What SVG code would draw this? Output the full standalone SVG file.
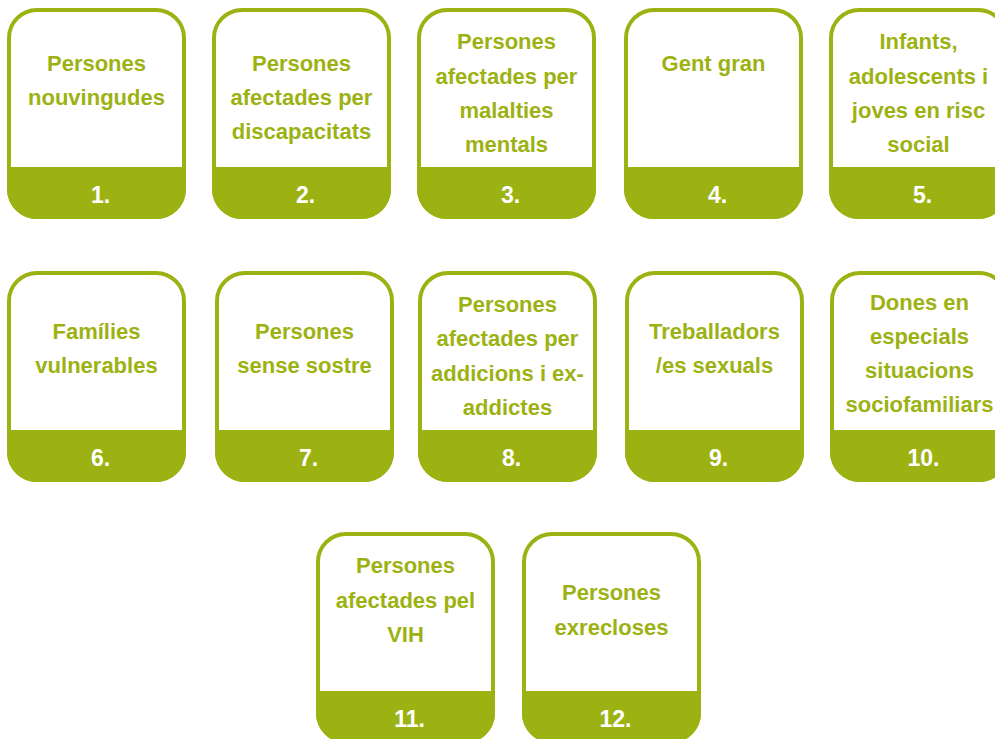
<svg xmlns="http://www.w3.org/2000/svg" xmlns:xlink="http://www.w3.org/1999/xlink" width="995" height="739" viewBox="0 0 995 739">
<style>
.t{font-family:"Liberation Sans",Arial,Helvetica,sans-serif;font-weight:bold;font-size:22px;fill:#9CB213;text-anchor:middle}
.n{font-family:"Liberation Sans",Arial,Helvetica,sans-serif;font-weight:bold;font-size:23px;fill:#ffffff;text-anchor:middle}
</style>
<defs>
<g id="card">
<rect x="2" y="2" width="175" height="207" rx="28" ry="28" fill="#ffffff" stroke="#9CB213" stroke-width="4"/>
<path d="M0,159 H179 V181 A30,30 0 0 1 149,211 H30 A30,30 0 0 1 0,181 Z" fill="#9CB213"/>
</g>
</defs>
<rect width="995" height="739" fill="#ffffff"/>
<g id="node1">
<use xlink:href="#card" x="7" y="8"/>
<text class="t" x="96.5" y="71">Persones</text>
<text class="t" x="96.5" y="105">nouvingudes</text>
<text class="n" x="100.5" y="203">1.</text>
</g>
<g id="node2">
<use xlink:href="#card" x="212" y="8"/>
<text class="t" x="301.5" y="71">Persones</text>
<text class="t" x="301.5" y="105">afectades per</text>
<text class="t" x="301.5" y="139">discapacitats</text>
<text class="n" x="305.5" y="203">2.</text>
</g>
<g id="node3">
<use xlink:href="#card" x="417" y="8"/>
<text class="t" x="506.5" y="49">Persones</text>
<text class="t" x="506.5" y="84">afectades per</text>
<text class="t" x="506.5" y="118">malalties</text>
<text class="t" x="506.5" y="152">mentals</text>
<text class="n" x="510.5" y="203">3.</text>
</g>
<g id="node4">
<use xlink:href="#card" x="624" y="8"/>
<text class="t" x="713.5" y="71">Gent gran</text>
<text class="n" x="717.5" y="203">4.</text>
</g>
<g id="node5">
<use xlink:href="#card" x="829" y="8"/>
<text class="t" x="918.5" y="49">Infants,</text>
<text class="t" x="918.5" y="84">adolescents i</text>
<text class="t" x="918.5" y="118">joves en risc</text>
<text class="t" x="918.5" y="152">social</text>
<text class="n" x="922.5" y="203">5.</text>
</g>
<g id="node6">
<use xlink:href="#card" x="7" y="271"/>
<text class="t" x="96.5" y="339">Famílies</text>
<text class="t" x="96.5" y="373">vulnerables</text>
<text class="n" x="100.5" y="466">6.</text>
</g>
<g id="node7">
<use xlink:href="#card" x="215" y="271"/>
<text class="t" x="304.5" y="339">Persones</text>
<text class="t" x="304.5" y="373">sense sostre</text>
<text class="n" x="308.5" y="466">7.</text>
</g>
<g id="node8">
<use xlink:href="#card" x="418" y="271"/>
<text class="t" x="507.5" y="312">Persones</text>
<text class="t" x="507.5" y="346">afectades per</text>
<text class="t" x="507.5" y="381">addicions i ex-</text>
<text class="t" x="507.5" y="415">addictes</text>
<text class="n" x="511.5" y="466">8.</text>
</g>
<g id="node9">
<use xlink:href="#card" x="625" y="271"/>
<text class="t" x="714.5" y="339">Treballadors</text>
<text class="t" x="714.5" y="373">/es sexuals</text>
<text class="n" x="718.5" y="466">9.</text>
</g>
<g id="node10">
<use xlink:href="#card" x="830" y="271"/>
<text class="t" x="919.5" y="310">Dones en</text>
<text class="t" x="919.5" y="344">especials</text>
<text class="t" x="919.5" y="378">situacions</text>
<text class="t" x="919.5" y="412">sociofamiliars</text>
<text class="n" x="923.5" y="466">10.</text>
</g>
<g id="node11">
<use xlink:href="#card" x="316" y="532"/>
<text class="t" x="405.5" y="573">Persones</text>
<text class="t" x="405.5" y="608">afectades pel</text>
<text class="t" x="405.5" y="642">VIH</text>
<text class="n" x="409.5" y="727">11.</text>
</g>
<g id="node12">
<use xlink:href="#card" x="522" y="532"/>
<text class="t" x="611.5" y="600">Persones</text>
<text class="t" x="611.5" y="635">exrecloses</text>
<text class="n" x="615.5" y="727">12.</text>
</g>
<g id="connectors"></g>
</svg>
